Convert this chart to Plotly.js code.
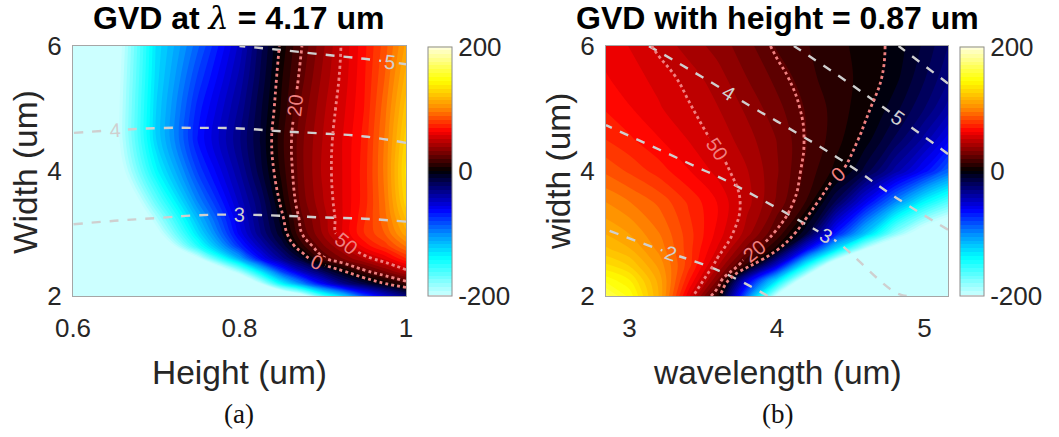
<!DOCTYPE html>
<html>
<head>
<meta charset="utf-8">
<script src="https://cdn.plot.ly/plotly-3.0.1.min.js"></script>
<style>
html,body{margin:0;padding:0;background:#fff;}
#chart{width:1059px;height:437px;}
</style>
</head>
<body>
<div id="chart"></div>
<script>
// ---------- Panel (a): GVD at lambda = 4.17 um ----------
const heightA = [0.6,0.65,0.7,0.75,0.8,0.825,0.85,0.875,0.9,0.925,0.95,0.975,1.0];
const widthA  = [2,2.2,2.4,2.6,2.8,3,3.25,3.5,4,4.5,5,5.5,6];
const gvdA = [
  [-500,-480,-450,-400,-330,-290,-250,-215,-160,-125,-82,-52,-30],
  [-450,-420,-380,-320,-245,-200,-140,-100,-62,-32,-15,0,14],
  [-420,-380,-330,-260,-185,-130,-80,-45,-20,0,18,32,47],
  [-380,-330,-270,-205,-110,-65,-35,-10,18,32,45,58,75],
  [-350,-300,-240,-150,-75,-45,-18,10,30,45,65,78,95],
  [-320,-280,-210,-130,-60,-32,-8,20,38,57,75,88,110],
  [-315,-265,-190,-115,-54,-28,-3,24,40,57,74,92,120],
  [-310,-250,-170,-100,-48,-25,2,28,43,57,72,94,128],
  [-300,-220,-140,-80,-38,-15,8,30,45,57,72,96,133],
  [-290,-210,-125,-68,-32,-12,10,30,44,57,71,95,128],
  [-290,-210,-125,-72,-36,-14,7,27,42,55,69,92,122],
  [-295,-212,-128,-80,-42,-18,5,23,39,53,68,88,115],
  [-300,-215,-130,-89,-48,-21,2,20,36,52,67,85,108]
];
// grey dashed field (panel a)
const heightA2 = [0.6,0.65,0.7,0.75,0.8,0.85,0.9,0.95,1.0];
const widthA2  = [2,3,4,5,6];
const greyA = [
  [2.21,2.17,2.13,2.08,2.06,2.06,2.06,2.05,2.06],
  [2.90,2.86,2.83,2.79,2.78,2.79,2.81,2.82,2.85],
  [3.58,3.55,3.52,3.51,3.51,3.53,3.55,3.58,3.64],
  [4.27,4.24,4.22,4.22,4.23,4.27,4.30,4.34,4.44],
  [4.99,4.96,4.93,4.93,5.00,5.05,5.11,5.17,5.23]
];

// ---------- Panel (b): GVD with height = 0.87 um ----------
const lamB   = [2.84,3.0,3.2,3.4,3.6,3.8,4.0,4.2,4.4,4.6,4.8,5.0,5.16];
const widthB = [2.0,2.25,2.5,2.75,3.0,3.5,4.0,4.5,5.0,5.5,6.0];
const gvdB = [
  [165,148,112,58,8,-95,-205,-260,-300,-320,-340,-350,-360],
  [148,138,110,70,30,-55,-130,-225,-270,-300,-320,-335,-345],
  [132,124,104,78,45,10,-50,-140,-230,-270,-300,-315,-325],
  [120,113,98,78,55,28,3,-60,-130,-200,-240,-270,-285],
  [112,106,94,78,60,40,18,-12,-70,-120,-180,-220,-240],
  [100,94,86,74,62,46,30,12,-20,-60,-100,-140,-165],
  [86,80,72,63,54,44,32,17,4,-15,-40,-65,-90],
  [75,70,63,56,48,40,31,19,9,-3,-20,-40,-60],
  [68,63,57,51,44,36,27,18,10,2,-10,-25,-40],
  [63,59,54,47,40,31,23,15,8,5,-4,-18,-30],
  [60,56,48,41,35,27,18,13,8,4,-2,-14,-25]
];
// grey dashed field (panel b)
const lamB2   = [2.84,3.2,3.6,4.0,4.4,4.8,5.16];
const widthB2 = [2,3,4,5,6];
const greyB = [
  [1.37,1.53,1.73,2.05,2.35,2.96,3.14],
  [1.96,2.16,2.39,2.71,3.09,3.59,3.95],
  [2.56,2.78,3.06,3.42,3.83,4.29,4.76],
  [3.16,3.42,3.76,4.15,4.57,5.09,5.64],
  [3.75,4.06,4.44,4.86,5.35,5.96,6.54]
];

const cbTicks = [-200,0,200];
const pinkLevelsLow = [0,20];
const pinkLevelHigh = 50;

// ---------- styling ----------
const W = 1059, H = 437;
const CS = [
  [0.00,'#ccffff'],
  [0.15,'#00ffff'],
  [0.24,'#0096ff'],
  [0.34,'#0000ff'],
  [0.44,'#000066'],
  [0.50,'#000000'],
  [0.56,'#660000'],
  [0.66,'#ff0000'],
  [0.75,'#ff8c00'],
  [0.86,'#ffff00'],
  [1.00,'#ffffe0']
];
const PINK = '#f08080';
const GREY = '#cfcfcf';
const FONT = 'Liberation Sans, Arial, sans-serif';
const TXT = '#262626';

function fillTrace(x, y, z, xa, ya, cbx) {
  return {
    type:'contour', x:x, y:y, z:z, xaxis:xa, yaxis:ya,
    zmin:-200, zmax:200, zauto:false, autocontour:false,
    contours:{start:-200, end:200, size:6.25, coloring:'fill', showlines:false},
    line:{width:0, smoothing:1},
    colorscale:CS, hoverinfo:'skip',
    colorbar:{
      x:cbx, xanchor:'left', xref:'paper', xpad:0,
      y:1-171/H, yanchor:'middle', yref:'paper', ypad:0,
      len:249, lenmode:'pixels', thickness:24,
      outlinecolor:'#8c8c8c', outlinewidth:1,
      tickvals:cbTicks, ticktext:cbTicks.map(String), ticks:'',
      tickfont:{family:FONT, size:26, color:TXT}
    }
  };
}
function lineTrace(x, y, z, xa, ya, start, end, size, color, dash, w) {
  return {
    type:'contour', x:x, y:y, z:z, xaxis:xa, yaxis:ya,
    autocontour:false, showscale:false, hoverinfo:'skip',
    contours:{start:start, end:end, size:size, coloring:'none', showlabels:true,
              labelfont:{family:FONT, size:20, color:color}},
    line:{color:color, dash:dash, width:w, smoothing:1.3}
  };
}

const data = [
  fillTrace(heightA, widthA, gvdA, 'x', 'y', 428/W),
  lineTrace(heightA2, widthA2, greyA, 'x', 'y', 3, 5, 1, GREY, 'dash', 2.4),
  lineTrace(heightA, widthA, gvdA, 'x', 'y', pinkLevelsLow[0], pinkLevelsLow[1], 20, PINK, 'dot', 2.8),
  lineTrace(heightA, widthA, gvdA, 'x', 'y', pinkLevelHigh, pinkLevelHigh, 10, PINK, 'dot', 2.8),

  fillTrace(lamB, widthB, gvdB, 'x2', 'y2', 960/W),
  lineTrace(lamB2, widthB2, greyB, 'x2', 'y2', 2, 6, 1, GREY, 'dash', 2.4),
  lineTrace(lamB, widthB, gvdB, 'x2', 'y2', pinkLevelsLow[0], pinkLevelsLow[1], 20, PINK, 'dot', 2.8),
  lineTrace(lamB, widthB, gvdB, 'x2', 'y2', pinkLevelHigh, pinkLevelHigh, 10, PINK, 'dot', 2.8)
];

const ydom = [(H-296)/H, (H-46)/H];
function ax(dom, range, vals, txt, anchor, standoff) {
  return {domain:dom, range:range, anchor:anchor, tickvals:vals, ticktext:txt,
    ticks:'', ticklabelstandoff:standoff, showgrid:false, zeroline:false, showline:true, linecolor:'#a6a6a6',
    linewidth:1, mirror:true, tickfont:{family:FONT, size:26, color:TXT}};
}
function ann(text, xpx, ypx, size, angle, family, color) {
  return {text:text, x:xpx/W, y:1-ypx/H, xref:'paper', yref:'paper', xanchor:'center', yanchor:'middle',
    showarrow:false, textangle:angle||0, font:{family:family||FONT, size:size, color:color||TXT}};
}
const layout = {
  width:W, height:H, margin:{l:0,r:0,t:0,b:0},
  paper_bgcolor:'#ffffff', plot_bgcolor:'#ffffff', showlegend:false,
  xaxis: ax([73/W, 406/W], [0.6,1.0], [0.6,0.8,1.0], ['0.6','0.8','1'], 'y', 9),
  yaxis: ax(ydom, [2,6], [2,4,6], ['2','4','6'], 'x', 5),
  xaxis2: ax([606/W, 948/W], [2.84,5.16], [3,4,5], ['3','4','5'], 'y2', 9),
  yaxis2: ax(ydom, [2,6], [2,4,6], ['2','4','6'], 'x2', 5),
  annotations:[
    ann('<b>GVD at <span style="font-family:\'DejaVu Serif\';font-weight:normal;font-style:italic">λ</span> = 4.17 um</b>', 239.5, 18, 32, 0, FONT, '#000'),
    ann('<b>GVD with height = 0.87 um</b>', 777, 18, 32, 0, FONT, '#000'),
    ann('Height (um)', 239.5, 372, 33.5),
    ann('wavelength (um)', 777, 372, 33.5),
    ann('Width (um)', 25, 172, 33.5, -90),
    ann('width (um)', 558, 172, 33.5, -90),
    ann('(a)', 239.5, 414, 27, 0, 'Liberation Serif, DejaVu Serif, serif', '#111'),
    ann('(b)', 777, 414, 27, 0, 'Liberation Serif, DejaVu Serif, serif', '#111')
  ]
};
Plotly.newPlot('chart', data, layout, {staticPlot:true, displayModeBar:false});
</script>
</body>
</html>
